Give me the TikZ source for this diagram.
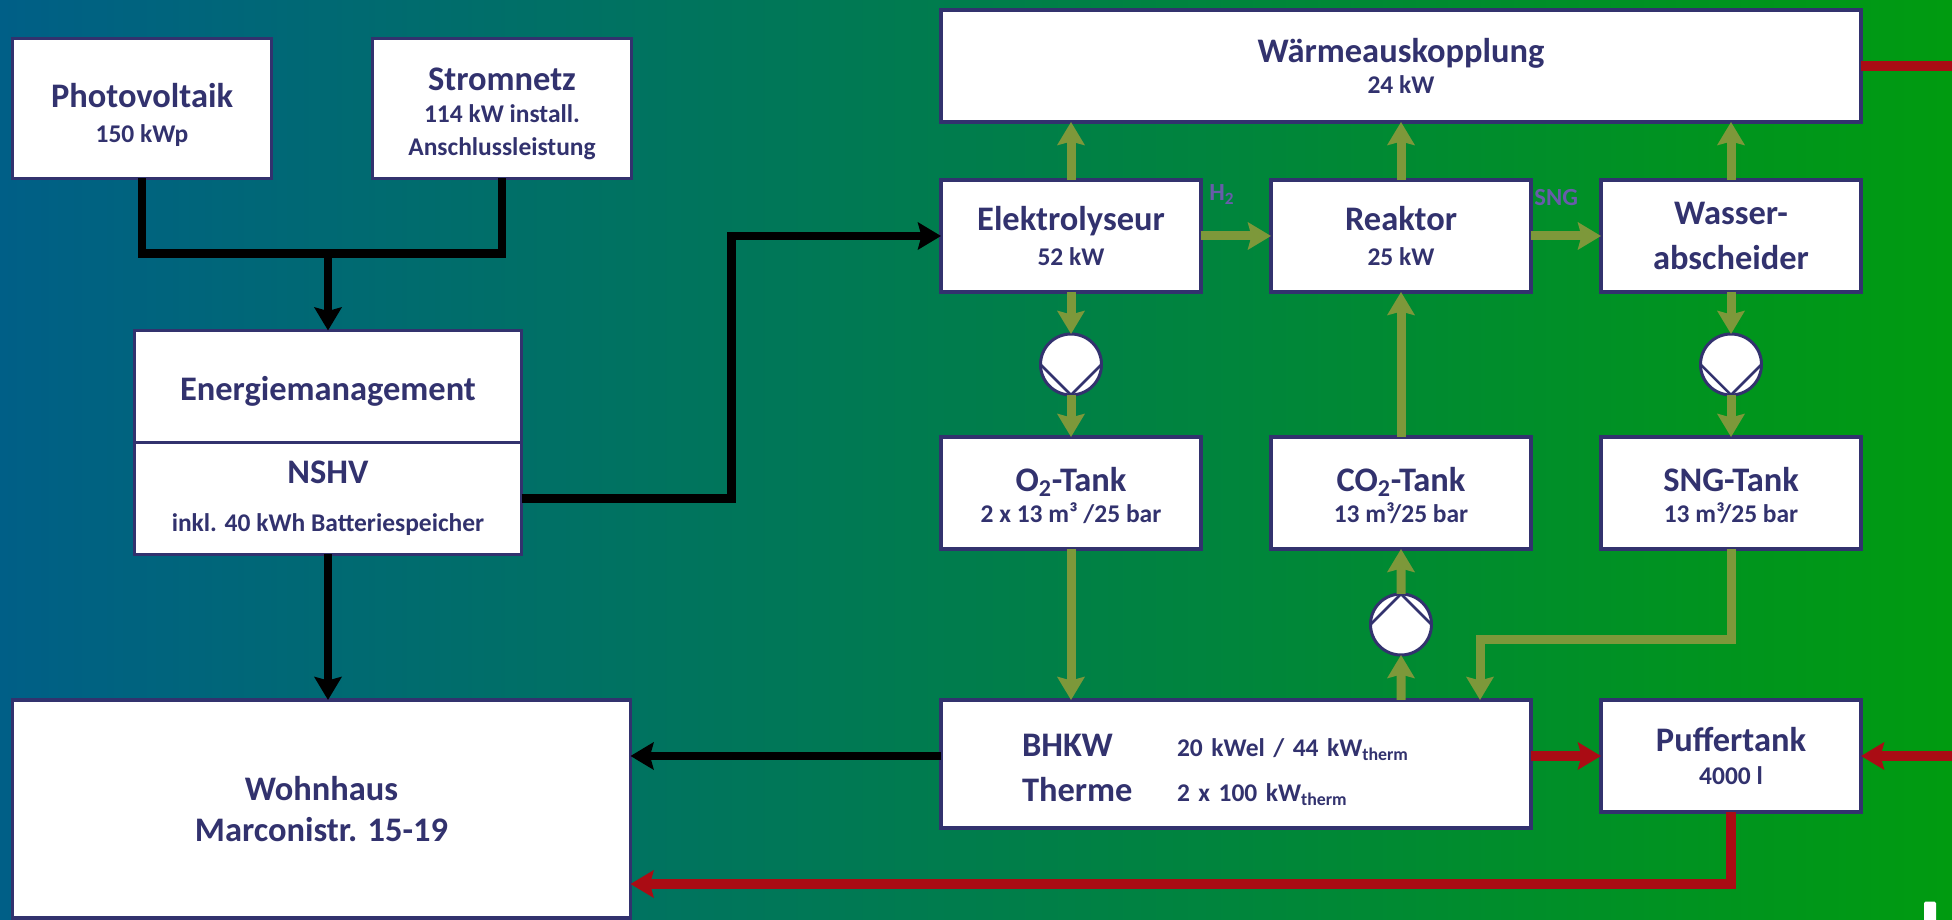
\documentclass[tikz,border=0pt]{standalone}
\usepackage{fontspec}
\setmainfont{Carlito}
\usepackage{tikz}
\usetikzlibrary{positioning,arrows.meta,calc}
\definecolor{frameblue}{RGB}{50,50,110}
\definecolor{tagblue}{RGB}{104,92,170}
\definecolor{gasgreen}{RGB}{125,152,58}
\definecolor{heatred}{RGB}{170,12,20}
\definecolor{bgleft}{RGB}{0,95,135}
\definecolor{bgright}{RGB}{0,155,16}
\newcommand{\headfont}{\fontsize{19.6}{23}\selectfont\bfseries}
\newcommand{\subfont}{\fontsize{14.5}{18}\selectfont\bfseries}
\newcommand{\toppad}[1]{\rule{0pt}{#1}}

\begin{document}
\begin{tikzpicture}[
    node distance=14mm and 14mm,
    >={Stealth[length=4.6mm,width=5.4mm,inset=0.7mm]},
    unit/.style={draw=frameblue, line width=0.7mm, fill=white, text=frameblue, align=center, inner sep=0pt, outer sep=0pt, font=\subfont},
    plant/.style={unit, minimum width=52mm, minimum height=22.4mm},
    feed/.style={unit, minimum width=51.8mm, minimum height=28mm},
    panel/.style={unit, minimum width=77.4mm, minimum height=22.4mm},
    pump/.style={circle, draw=frameblue, line width=0.6mm, fill=white, minimum size=12.2mm, inner sep=0pt, outer sep=0pt,
        path picture={\draw[frameblue, line width=0.5mm] (path picture bounding box.west) -- (path picture bounding box.#1) -- (path picture bounding box.east);}},
    power/.style={draw=black, line width=1.7mm},
    gas/.style={draw=gasgreen, line width=1.8mm},
    heat/.style={draw=heatred, line width=2mm},
    flowtag/.style={text=tagblue, font=\fontsize{14}{16}\selectfont\bfseries, inner sep=0pt}
]
\useasboundingbox (0,0) rectangle (390.4mm,-184mm);
\shade[left color=bgleft, right color=bgright] (0,0) rectangle (390.4mm,-184mm);
\coordinate (rightedge) at (390.4mm,0);

\node[feed, anchor=north west] (pv) at (2.5mm,-7.7mm) {{\headfont\toppad{7.5mm}Photovoltaik}\\[0.7mm]150 kWp};
\node[feed, right=20.2mm of pv] (grid) {{\headfont\toppad{6.7mm}Stromnetz}\\114 kW install.\\[0.4mm]Anschlussleistung};
\node[panel, below right=30.4mm and 24.4mm of pv.south west] (ems) {{\headfont\toppad{6.7mm}Energiemanagement}};
\node[panel, below=0mm of ems] (nshv) {{\headfont NSHV}\\[3.2mm]inkl. 40 kWh Batteriespeicher};

\node[unit, anchor=north west, minimum width=184mm, minimum height=22.4mm] (waerme) at (188.2mm,-2mm) {{\headfont Wärmeauskopplung}\\24 kW};
\node[plant, below right=11.6mm and 0mm of waerme.south west] (elektro) {{\headfont Elektrolyseur}\\[0.5mm]52 kW};
\node[plant, right=of elektro] (reaktor) {{\headfont Reaktor}\\[0.5mm]25 kW};
\node[plant, right=of reaktor] (wasser) {{\headfont Wasser-}\\[2.7mm]{\headfont abscheider}};
\node[plant, below=29mm of elektro] (otank) {{\headfont\toppad{5.9mm}O\textsubscript{2}-Tank}\\2 x 13 m³ /25 bar};
\node[plant, below=29mm of reaktor] (cotank) {{\headfont\toppad{5.9mm}CO\textsubscript{2}-Tank}\\13 m³/25 bar};
\node[plant, below=29mm of wasser] (sngtank) {{\headfont\toppad{5.9mm}SNG-Tank}\\13 m³/25 bar};
\node[unit, below right=30.2mm and 0mm of otank.south west, minimum width=118mm, minimum height=25.6mm, text width=118mm, align=left] (bhkw) {\hspace*{16.2mm}\begin{tabular}{@{}p{31mm}@{}l@{}}{\headfont\toppad{8mm}BHKW}&20 kWel / 44 kW\textsubscript{therm}\\[2.2mm]{\headfont Therme}&2 x 100 kW\textsubscript{therm}\end{tabular}};
\node[plant, below=30.2mm of sngtank] (puffer) {{\headfont Puffertank}\\[0.4mm]4000 l};
\node[unit, anchor=north west, minimum width=123.6mm, minimum height=43.6mm] (haus) at (pv.south west |- bhkw.north) {{\headfont Wohnhaus}\\[1.8mm]{\headfont Marconistr. 15-19}};

\node[pump=south] (opump) at ($(elektro)!0.5!(otank)$) {};
\node[pump=south] (sngpump) at ($(wasser)!0.5!(sngtank)$) {};
\node[pump=north] (copump) at ($(cotank.south)!0.5!(cotank.south |- bhkw.north)$) {};

\node[fill=white, rounded corners=0.3mm, anchor=south, minimum width=2.4mm, minimum height=4mm, inner sep=0pt] (mark) at (386mm,-184.4mm) {};

\coordinate (bus) at ([yshift=15.4mm]ems.north);
\coordinate (sngin) at ([xshift=15.8mm]cotank.south |- bhkw.north);
\coordinate (sngbend) at ([yshift=12mm]sngin);
\coordinate (heatback) at ([yshift=-36.8mm]haus.north east);
\coordinate (elbow) at ([xshift=42mm]nshv.east);

\draw[power] (pv.south) |- (bus) -| (grid.south);
\draw[power,->] (bus) -- (ems.north);
\draw[power,->] (nshv.south) -- (nshv.south |- haus.north);
\draw[power,->] (nshv.east) -- (elbow) |- (elektro.west);
\draw[power,->] (bhkw.west |- puffer) -- (haus.east |- puffer);

\draw[gas,->] (elektro.north) -- (elektro.north |- waerme.south);
\draw[gas,->] (reaktor.north) -- (reaktor.north |- waerme.south);
\draw[gas,->] (wasser.north) -- (wasser.north |- waerme.south);
\draw[gas,->] (elektro.east) -- node[flowtag, pos=0.3, above=5.4mm] {H\textsubscript{2}} (reaktor.west);
\draw[gas,->] (reaktor.east) -- node[flowtag, pos=0.36, above=5.2mm] {SNG} (wasser.west);
\draw[gas,->] (elektro.south) -- (opump.north);
\draw[gas,->] (opump.south) -- (otank.north);
\draw[gas,->] (wasser.south) -- (sngpump.north);
\draw[gas,->] (sngpump.south) -- (sngtank.north);
\draw[gas,->] (cotank.north) -- (reaktor.south);
\draw[gas,->] (copump.north) -- (cotank.south);
\draw[gas,->] (cotank.south |- bhkw.north) -- (copump.south);
\draw[gas,->] (otank.south) -- (otank.south |- bhkw.north);
\draw[gas,->] (sngtank.south) |- (sngbend) -- (sngin);

\draw[heat] (waerme.east) -- (waerme -| rightedge);
\draw[heat,->] (bhkw.east |- puffer) -- (puffer.west);
\draw[heat,->] (puffer -| rightedge) -- (puffer.east);
\draw[heat,->] (puffer.south) |- (heatback);
\end{tikzpicture}
\end{document}
